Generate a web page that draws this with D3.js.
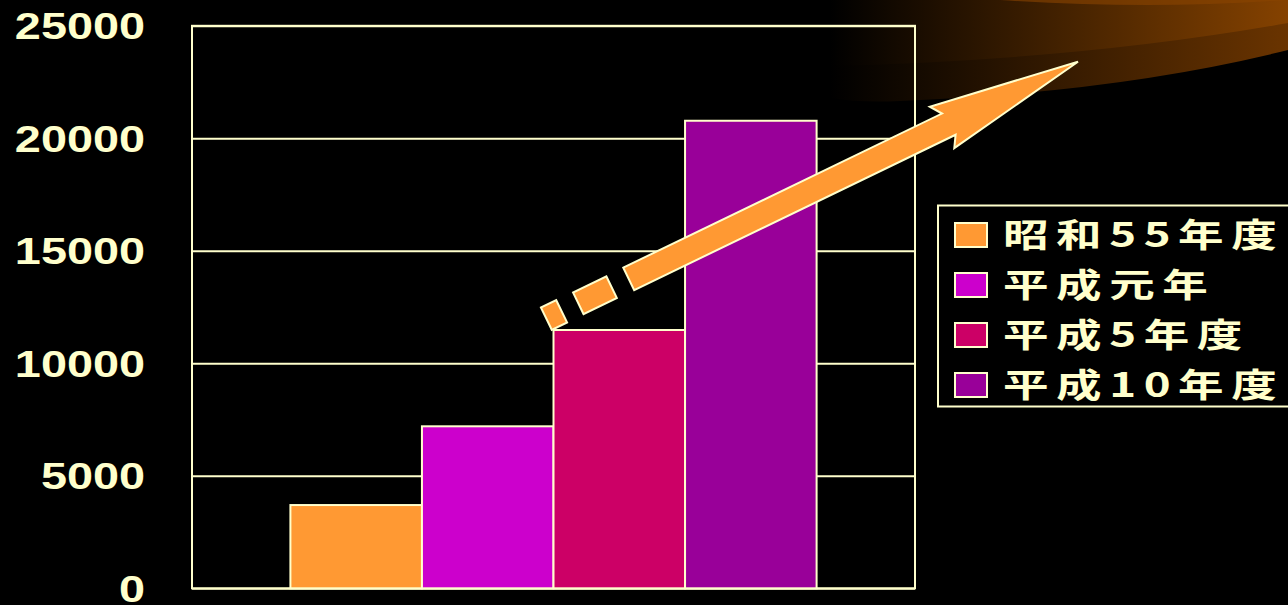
<!DOCTYPE html>
<html>
<head>
<meta charset="utf-8">
<script src="https://cdn.jsdelivr.net/npm/d3@7"></script>
<style>
  html, body { margin: 0; padding: 0; background: #000; }
  svg { display: block; }
</style>
</head>
<body>
<div id="chart"></div>
<script>
// data
const seriesNames = ["昭和55年度", "平成元年", "平成5年度", "平成10年度"];
const seriesValues = [3700, 7200, 11480, 20780];
const seriesColors = ["#FF9933", "#CC00CC", "#CC0066", "#990099"];
const yTicks = [0, 5000, 10000, 15000, 20000, 25000];

const W = 1288, H = 605;
const cream = "#FFFFCC";
const plot = { left: 192, right: 915, top: 25.8, bottom: 588.3 };

const svg = d3.select("#chart")
  .append("svg")
  .attr("width", W)
  .attr("height", H);

// background swoosh (top right)
const defs = svg.append("defs");
const grad = defs.append("linearGradient")
  .attr("id", "swoosh")
  .attr("x1", 0).attr("x2", 1).attr("y1", 0).attr("y2", 0);
grad.append("stop").attr("offset", "0%").attr("stop-color", "#000");
grad.append("stop").attr("offset", "100%").attr("stop-color", "#6a3400");
const grad2 = defs.append("linearGradient")
  .attr("id", "swoosh2")
  .attr("x1", 0).attr("x2", 1).attr("y1", 0).attr("y2", 0);
grad2.append("stop").attr("offset", "0%").attr("stop-color", "#000");
grad2.append("stop").attr("offset", "100%").attr("stop-color", "#854200");

svg.append("path")
  .attr("d", "M830,0 L830,98 Q860,103 900,101 Q1120,92 1288,50 L1288,0 Z")
  .attr("fill", "url(#swoosh)");
svg.append("path")
  .attr("d", "M830,0 L830,66 Q1080,60 1288,23 L1288,0 Z")
  .attr("fill", "url(#swoosh2)");
svg.append("path")
  .attr("d", "M1000,0 Q1150,10 1288,0 Z")
  .attr("fill", "#8a4500")
  .attr("opacity", 0.6);

// scales
const y = d3.scaleLinear()
  .domain([0, 25000])
  .range([plot.bottom, plot.top]);

const x0 = d3.scaleBand()
  .domain([""])
  .range([plot.left, plot.right])
  .paddingOuter(0.187);

const x1 = d3.scaleBand()
  .domain(seriesNames)
  .range([0, x0.bandwidth()]);

const color = d3.scaleOrdinal()
  .domain(seriesNames)
  .range(seriesColors);

// gridlines + tick labels
const yAxis = svg.append("g")
  .attr("transform", `translate(${plot.left},0)`)
  .call(d3.axisLeft(y)
    .tickValues(yTicks)
    .tickSize(-(plot.right - plot.left))
    .tickPadding(0)
    .tickFormat(d3.format("d")));

yAxis.select(".domain").remove();
yAxis.selectAll(".tick line")
  .attr("stroke", cream)
  .attr("stroke-width", 2);
const sx = 1.3;
yAxis.selectAll(".tick text")
  .attr("fill", cream)
  .attr("font-family", "'Liberation Sans', Arial, sans-serif")
  .attr("font-weight", "bold")
  .attr("font-size", 36)
  .attr("x", -47 / sx)
  .attr("dy", "0.36em")
  .attr("transform", `scale(${sx},1)`);

// plot frame
svg.append("rect")
  .attr("x", plot.left)
  .attr("y", plot.top)
  .attr("width", plot.right - plot.left)
  .attr("height", plot.bottom - plot.top)
  .attr("fill", "none")
  .attr("stroke", cream)
  .attr("stroke-width", 2);

// bars
svg.append("g")
  .attr("transform", `translate(${x0("")},0)`)
  .selectAll("rect")
  .data(seriesNames.map((n, i) => ({ name: n, value: seriesValues[i] })))
  .join("rect")
  .attr("x", d => x1(d.name))
  .attr("y", d => y(d.value))
  .attr("width", x1.bandwidth())
  .attr("height", d => y(0) - y(d.value))
  .attr("fill", d => color(d.name))
  .attr("stroke", cream)
  .attr("stroke-width", 2);

// growth arrow (decoration), drawn in its own rotated frame
const arrow = svg.append("g")
  .attr("transform", "translate(554,315) rotate(-25.8)")
  .attr("fill", "#FF9933")
  .attr("stroke", cream)
  .attr("stroke-width", 2)
  .attr("stroke-linejoin", "miter");
arrow.append("rect").attr("x", -8.5).attr("y", -12.5).attr("width", 17).attr("height", 25);
arrow.append("rect").attr("x", 27).attr("y", -12).attr("width", 37).attr("height", 24);
arrow.append("path")
  .attr("d", "M83,-12.5 L437,-12.5 L429,-24 L582,0 L433,24 L440,12.5 L83,12.5 Z");

// legend
const legend = svg.append("g");
legend.append("rect")
  .attr("x", 938)
  .attr("y", 205.5)
  .attr("width", 400)
  .attr("height", 201)
  .attr("fill", "#000")
  .attr("stroke", cream)
  .attr("stroke-width", 2);

const items = legend.selectAll("g.item")
  .data(seriesNames)
  .join("g")
  .attr("class", "item")
  .attr("transform", (d, i) => `translate(0,${235 + i * 50})`);

items.append("rect")
  .attr("x", 955)
  .attr("y", -12)
  .attr("width", 32)
  .attr("height", 24)
  .attr("fill", d => color(d))
  .attr("stroke", cream)
  .attr("stroke-width", 2);

const lsx = 1.38;
items.append("text")
  .attr("x", 1003 / lsx)
  .attr("y", 0)
  .attr("dy", "0.36em")
  .attr("transform", `scale(${lsx},1)`)
  .attr("fill", cream)
  .attr("font-family", "'Noto Sans CJK JP', sans-serif")
  .attr("font-weight", "bold")
  .attr("font-size", 33)
  .attr("letter-spacing", 5.5)
  .text(d => d);
</script>
</body>
</html>
